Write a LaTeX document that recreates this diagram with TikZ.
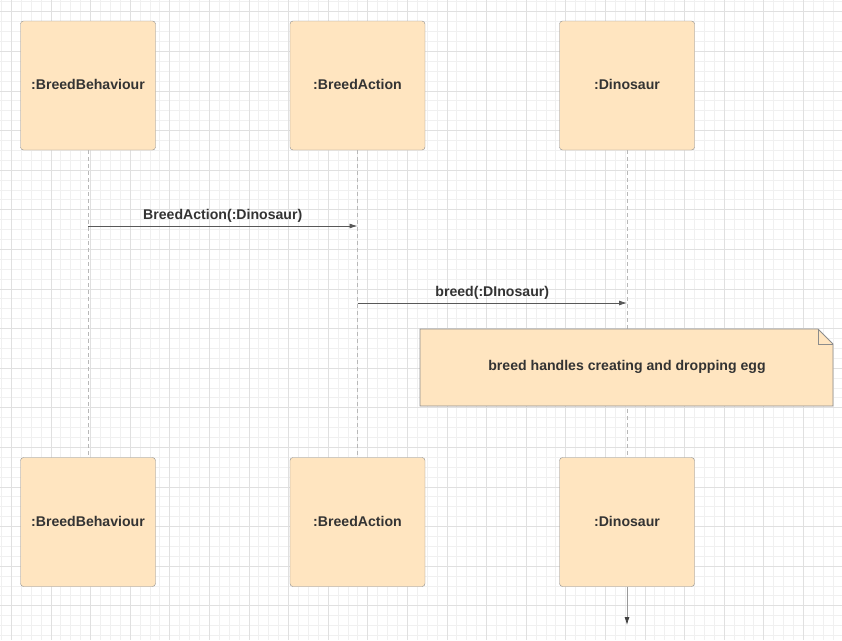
\documentclass[tikz,border=0pt]{standalone}
\usepackage{fontspec}
\setmainfont{Liberation Sans}
\usetikzlibrary{arrows.meta}

\definecolor{boxfill}{HTML}{FFE5C0}
\definecolor{boxline}{HTML}{8C8C8C}
\definecolor{inktext}{HTML}{333333}
\definecolor{minorgrid}{HTML}{F0F0F0}
\definecolor{majorgrid}{HTML}{E0E0E0}

\tikzstyle{obj} = [draw=boxline, fill=boxfill, rounded corners=3pt, minimum width=135pt, minimum height=129pt, text=inktext, font=\fontsize{14.1}{16}\selectfont\bfseries, inner sep=0pt]
\tikzstyle{lifeline} = [draw=black!28, line width=0.8pt, dash pattern=on 4pt off 3pt]
\tikzstyle{msg} = [draw=black!65, line width=0.8pt, -{Latex[length=8pt,width=5pt]}]
\tikzstyle{lbl} = [text=inktext, font=\fontsize{14.1}{16}\selectfont\bfseries]

\begin{document}
\begin{tikzpicture}[x=1pt, y=-1pt]
\useasboundingbox (0,0) rectangle (842,640);
\fill[white] (0,0) rectangle (842,640);
% grid
\foreach \i in {0,...,85} \draw[minorgrid, line width=0.7pt] (1.4+9.9*\i,0) -- (1.4+9.9*\i,640);
\foreach \i in {0,...,65} \draw[minorgrid, line width=0.7pt] (0,1.8+9.9*\i) -- (842,1.8+9.9*\i);
\foreach \i in {0,...,21} \draw[majorgrid, line width=0.7pt] (11.3+39.6*\i,0) -- (11.3+39.6*\i,640);
\foreach \i in {0,...,16} \draw[majorgrid, line width=0.7pt] (0,11.7+39.6*\i) -- (842,11.7+39.6*\i);

% objects
\node[obj] (bb) at (88,85.5) {\raisebox{1.5pt}{:BreedBehaviour}};
\node[obj] (ba) at (357.5,85.5) {\raisebox{1.5pt}{:BreedAction}};
\node[obj] (di) at (627,85.5) {\raisebox{1.5pt}{:Dinosaur}};
\node[obj] (bb2) at (88,522) {\raisebox{1.5pt}{:BreedBehaviour}};
\node[obj] (ba2) at (357.5,522) {\raisebox{1.5pt}{:BreedAction}};
\node[obj] (di2) at (627,522) {\raisebox{1.5pt}{:Dinosaur}};

% lifelines
\draw[lifeline] (bb) -- (bb2);
\draw[lifeline] (ba) -- (ba2);
\draw[lifeline] (di) -- (di2);

% messages
\coordinate (m1a) at (88,226);
\coordinate (m1b) at (357.5,226);
\coordinate (m2a) at (357.5,303);
\coordinate (m2b) at (627,303);
\draw[msg] (m1a) -- (m1b) node[lbl, midway, above=0pt] {BreedAction(:Dinosaur)};
\draw[msg] (m2a) -- (m2b) node[lbl, midway, above=0pt] {breed(:DInosaur)};

% note
\draw[draw=boxline, fill=boxfill, line width=0.8pt] (420,329) -- (818,329) -- (833,344) -- (833,406) -- (420,406) -- cycle;
\draw[draw=boxline, line width=0.8pt] (818,329) -- (818,344) -- (833,344);
\node[lbl] (note) at (627,367) {breed handles creating and dropping egg};

\coordinate (end) at (627,625);
\draw[draw=black!40, line width=0.8pt, -{Latex[length=8pt,width=5pt,color=black!75]}] (di2) -- (end);
\end{tikzpicture}
\end{document}
